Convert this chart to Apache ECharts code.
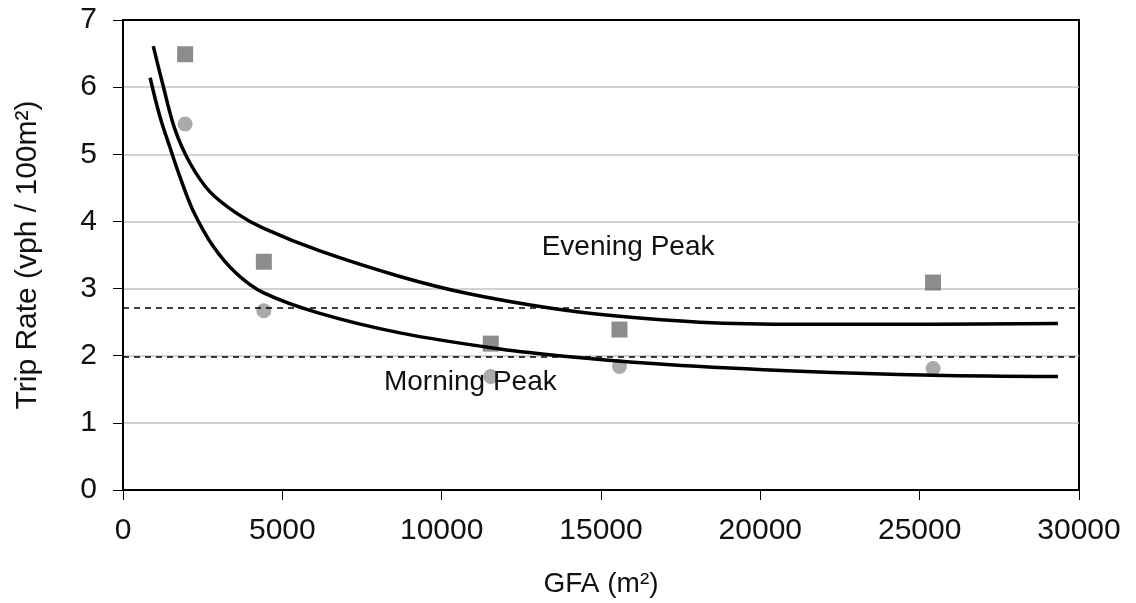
<!DOCTYPE html>
<html>
<head>
<meta charset="utf-8">
<script src="https://cdn.jsdelivr.net/npm/echarts@6/dist/echarts.min.js"></script>
<style>
  html, body { margin: 0; padding: 0; background: #fff; }
  #main { width: 1136px; height: 603px; }
</style>
</head>
<body>
<div id="main"></div>
<script>
// observed points (GFA m2, trip rate)
var eveningPts = [[1950, 6.49], [4420, 3.40], [11540, 2.18], [15580, 2.39], [25420, 3.09]];
var morningPts = [[1950, 5.45], [4420, 2.67], [11540, 1.69], [15580, 1.84], [25420, 1.81]];

// fitted curves
var eveningCurve = [[950, 6.61], [1265, 6.01], [1630, 5.37], [2100, 4.87], [2730, 4.44], [3570, 4.12],
  [4400, 3.90], [6180, 3.56], [8690, 3.18], [10780, 2.93], [13390, 2.71], [15490, 2.59],
  [18100, 2.50], [21240, 2.47], [25420, 2.47], [29340, 2.48]];
var morningCurve = [[850, 6.14], [1160, 5.56], [1475, 5.10], [1790, 4.66], [2200, 4.16], [2830, 3.63],
  [3570, 3.22], [4400, 2.94], [6180, 2.63], [8690, 2.34], [11830, 2.10], [13920, 1.99],
  [17060, 1.87], [21240, 1.77], [25420, 1.71], [29340, 1.69]];

var refLines = [2.72, 1.98];
var xTicks = [0, 5000, 10000, 15000, 20000, 25000, 30000];
var yTicks = [0, 1, 2, 3, 4, 5, 6, 7];

var font = 'Liberation Sans, Arial, sans-serif';
var myChart = echarts.init(document.getElementById('main'));
var option = {
  animation: false,
  grid: { left: 123, right: 57, top: 20, bottom: 113, outerBoundsMode: 'none', containLabel: false,
    show: true, borderColor: '#000', borderWidth: 2 },
  xAxis: {
    type: 'value', min: xTicks[0], max: xTicks[xTicks.length - 1], interval: 5000,
    name: 'GFA (m²)', nameLocation: 'middle', nameGap: 80,
    nameTextStyle: { fontFamily: font, fontSize: 28, color: '#111' },
    axisLine: { lineStyle: { color: '#000', width: 2 } },
    axisTick: { show: true, length: 10, lineStyle: { color: '#000', width: 1 } },
    axisLabel: { fontFamily: font, fontSize: 30, color: '#111', margin: 26,
      formatter: function (v) { return String(v); } },
    splitLine: { show: false }
  },
  yAxis: {
    type: 'value', min: yTicks[0], max: yTicks[yTicks.length - 1], interval: 1,
    name: 'Trip Rate (vph / 100m²)', nameLocation: 'middle', nameGap: 80, nameRotate: 90,
    nameTextStyle: { fontFamily: font, fontSize: 30, color: '#111' },
    axisLine: { show: true, lineStyle: { color: '#000', width: 2 } },
    axisTick: { show: true, length: 10, lineStyle: { color: '#000', width: 1 } },
    axisLabel: { fontFamily: font, fontSize: 30, color: '#111', margin: 26 },
    splitLine: { show: true, showMinLine: false, showMaxLine: false, lineStyle: { color: '#c4c4c4', width: 1.5 } }
  },
  series: [
    {
      name: 'Evening fit', type: 'line', data: eveningCurve, smooth: 0.35, symbol: 'none',
      lineStyle: { color: '#000', width: 3.5 }, z: 3,
      markLine: {
        silent: true, symbol: 'none', label: { show: false },
        lineStyle: { color: '#000', type: [6, 5], width: 1.5 },
        data: refLines.map(function (v) { return { yAxis: v }; })
      }
    },
    {
      name: 'Morning fit', type: 'line', data: morningCurve, smooth: 0.35, symbol: 'none',
      lineStyle: { color: '#000', width: 3.5 }, z: 3
    },
    {
      name: 'Evening Peak', type: 'scatter', data: eveningPts, symbol: 'rect', symbolSize: 16,
      itemStyle: { color: '#6f6f6f' }, z: 2,
      markPoint: {
        symbol: 'circle', symbolSize: 0,
        label: { show: true, formatter: 'Evening Peak', fontFamily: font, fontSize: 28, color: '#111' },
        data: [{ coord: [15850, 3.62] }]
      }
    },
    {
      name: 'Morning Peak', type: 'scatter', data: morningPts, symbol: 'circle', symbolSize: 15,
      itemStyle: { color: '#959595' }, z: 2,
      markPoint: {
        symbol: 'circle', symbolSize: 0,
        label: { show: true, formatter: 'Morning Peak', fontFamily: font, fontSize: 28, color: '#111' },
        data: [{ coord: [10900, 1.6] }]
      }
    }
  ]
};
myChart.setOption(option);
</script>
</body>
</html>
